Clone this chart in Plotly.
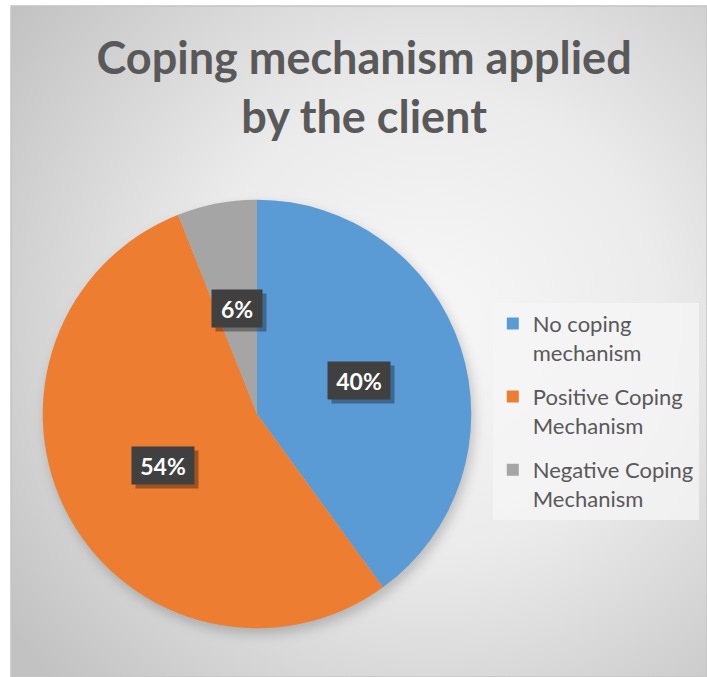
import base64
import math
import plotly.graph_objects as go

# ---- data ----
labels = ["No coping<br>mechanism", "Positive Coping<br>Mechanism", "Negative Coping<br>Mechanism"]
values = [40, 54, 6]
colors = ["#5B9BD5", "#ED7D31", "#A5A5A5"]
title_text = "Coping mechanism applied<br>by the client"

W, H = 707, 677
dom_x = [0.059, 0.668]
dom_y = [0.072, 0.705]

# pie geometry (paper coords) derived from the domain
cx = (dom_x[0] + dom_x[1]) / 2
cy = (dom_y[0] + dom_y[1]) / 2
R_px = min((dom_x[1] - dom_x[0]) * W, (dom_y[1] - dom_y[0]) * H) / 2
cx_px, cy_px = cx * W, (1 - cy) * H

# background: radial gradient + soft pie shadow (decoration)
svg = f'''<svg xmlns="http://www.w3.org/2000/svg" width="{W}" height="{H}" viewBox="0 0 {W} {H}">
<defs>
<radialGradient id="g" gradientUnits="userSpaceOnUse" cx="430" cy="320" r="520">
<stop offset="0" stop-color="#f7f7f7"/>
<stop offset="0.45" stop-color="#ebebeb"/>
<stop offset="1" stop-color="#c2c2c2"/>
</radialGradient>
<filter id="b" x="-20%" y="-20%" width="140%" height="140%"><feGaussianBlur stdDeviation="6"/></filter>
</defs>
<rect x="0" y="0" width="{W}" height="{H}" fill="#ffffff"/>
<rect x="11" y="6" width="{W-11}" height="{H-6}" fill="url(#g)" stroke="#c4c4c4" stroke-width="1.5"/>
<circle cx="{cx_px+3:.1f}" cy="{cy_px+6:.1f}" r="{R_px:.1f}" fill="#000" fill-opacity="0.2" filter="url(#b)"/>
</svg>'''
uri = "data:image/svg+xml;base64," + base64.b64encode(svg.encode()).decode()

fig = go.Figure()
fig.add_trace(go.Pie(
    labels=labels,
    values=values,
    marker=dict(colors=colors, line=dict(width=0)),
    sort=False,
    direction="clockwise",
    rotation=0,
    textinfo="none",
    hoverinfo="label+percent",
    domain=dict(x=dom_x, y=dom_y),
    showlegend=False,
))

# legend entries (square swatches, one group each so they can be spaced)
for lab, col in zip(labels, colors):
    fig.add_trace(go.Scatter(
        x=[None], y=[None], mode="markers", name=lab, legendgroup=lab,
        marker=dict(symbol="square", size=14, color=col), hoverinfo="skip",
    ))

# percentage labels placed at slice mid-angles, computed from the data
total = sum(values)
cum = 0
annotations = []
for v in values:
    mid = (cum + v / 2) / total * 2 * math.pi
    cum += v
    r = 0.5 * R_px
    ax = cx + r * math.sin(mid) / W
    ay = cy + r * math.cos(mid) / H
    txt = f"{round(v / total * 100)}%"
    bw = 12 * len(txt) + 26
    common = dict(x=ax, y=ay, xref="paper", yref="paper", showarrow=False,
                  xanchor="center", yanchor="middle", width=bw, height=37, borderpad=0)
    annotations.append(dict(common, text=" ", font=dict(family="Lato", size=23, color="#000000"),
                            bgcolor="rgba(0,0,0,0.33)", xshift=4, yshift=-4))
    annotations.append(dict(common, text=f"<b>{txt}</b>",
                            font=dict(family="Lato", size=23, color="#ffffff"),
                            bgcolor="#404040"))

fig.update_layout(
    width=W, height=H,
    margin=dict(l=0, r=0, t=0, b=0),
    paper_bgcolor="#ffffff",
    plot_bgcolor="rgba(0,0,0,0)",
    xaxis=dict(visible=False),
    yaxis=dict(visible=False),
    images=[dict(source=uri, xref="paper", yref="paper", x=0, y=1, sizex=1, sizey=1,
                 xanchor="left", yanchor="top", sizing="stretch", layer="below")],
    title=dict(
        text=f"<b>{title_text}</b>",
        x=0.515, xanchor="center", y=0.89, yanchor="top",
        font=dict(family="Lato", size=45, color="#595959"),
    ),
    legend=dict(
        x=0.697, xanchor="left", y=0.553, yanchor="top",
        bgcolor="rgba(246,246,246,0.75)",
        font=dict(family="Lato", size=22, color="#595959"),
        itemsizing="constant",
        tracegroupgap=13,
        valign="top",
    ),
    annotations=annotations,
    showlegend=True,
)

fig.write_html("out.html")
